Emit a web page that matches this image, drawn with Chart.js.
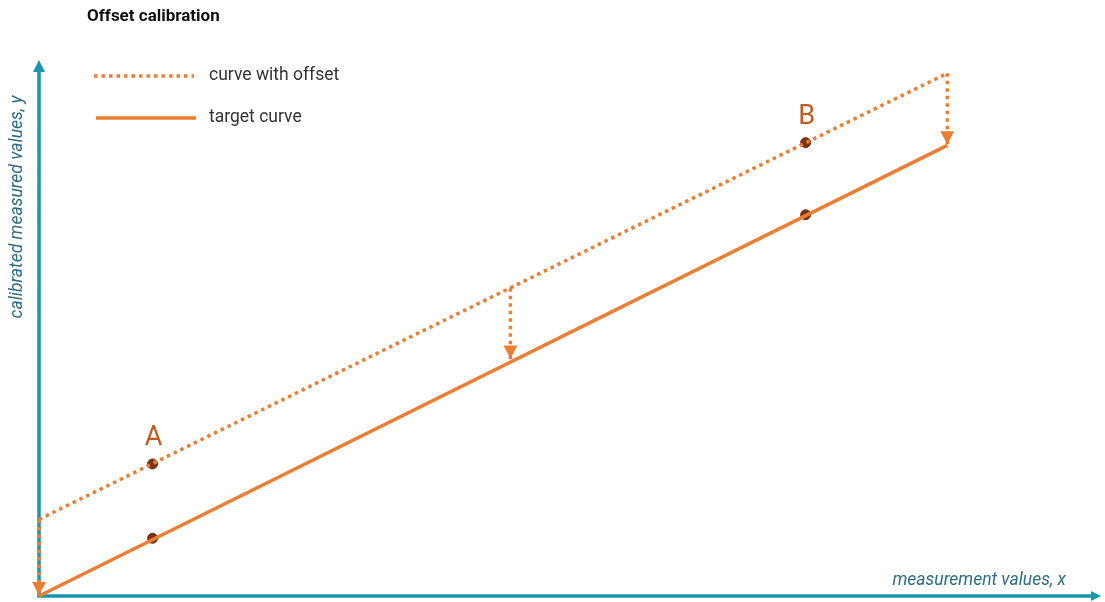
<!DOCTYPE html>
<html>
<head>
<meta charset="utf-8">
<script src="https://cdn.jsdelivr.net/npm/chart.js@4"></script>
<style>
  body { margin: 0; background: #fff; }
  #wrap { width: 1105px; height: 602px; }
</style>
</head>
<body>
<div id="wrap"><canvas id="myChart"></canvas></div>
<script>
// line ends (x) and y for both curves
const lineX = [0, 100];
const offsetY = [17, 116];
const targetY = [0, 100];

// marked points A and B
const pointNames = ['A', 'B'];
const pointX = [12.5, 84.4];
const pointOffsetY = [29.3, 100.6];
const pointTargetY = [12.8, 84.6];

// dotted correction arrows
const arrowX = [0, 51.9, 100];
const arrowFrom = [17, 68.3, 116];
const arrowTo = [0, 52.5, 100];

const titleText = 'Offset calibration';
const legendNames = ['curve with offset', 'target curve'];
const xTitle = 'measurement values, x';
const yTitle = 'calibrated measured values, y';

const orange = '#ED7D31';
const teal = '#1797AE';
const dotColor = '#7A3210';

function pts(xs, ys) {
    return xs.map((x, i) => ({ x: x, y: ys[i] }));
}

const datasets = [
    { data: pts(lineX, offsetY), borderColor: orange, borderWidth: 3.5, borderDash: [3.5, 4], pointRadius: 0 },
    { data: pts(lineX, targetY), borderColor: orange, borderWidth: 3.5, pointRadius: 0 }
];
for (let i = 0; i < arrowX.length; i++) {
    datasets.push({
        data: [{ x: arrowX[i], y: arrowFrom[i] }, { x: arrowX[i], y: arrowTo[i] }],
        borderColor: orange, borderWidth: 3.5, borderDash: [3.5, 4], pointRadius: 0
    });
}
datasets.push({
    data: pts(pointX, pointOffsetY).concat(pts(pointX, pointTargetY)),
    showLine: false, pointRadius: 5, pointBackgroundColor: dotColor,
    pointBorderColor: dotColor, pointBorderWidth: 1
});

function tri(c, x1, y1, x2, y2, x3, y3, col) {
    c.fillStyle = col;
    c.beginPath();
    c.moveTo(x1, y1); c.lineTo(x2, y2); c.lineTo(x3, y3);
    c.closePath();
    c.fill();
}

const drawAxes = {
    id: 'drawAxes',
    beforeDatasetsDraw(chart) {
        const c = chart.ctx;
        const a = chart.chartArea;
        c.save();
        c.strokeStyle = teal;
        c.lineWidth = 3.5;
        c.beginPath();
        c.moveTo(a.left, a.top + 4);
        c.lineTo(a.left, a.bottom);
        c.lineTo(a.right - 4, a.bottom);
        c.stroke();
        tri(c, a.left, a.top - 2, a.left - 6, a.top + 10, a.left + 6, a.top + 10, teal);
        tri(c, a.right + 2, a.bottom, a.right - 8, a.bottom - 5, a.right - 8, a.bottom + 5, teal);
        c.restore();
    },
    afterDatasetsDraw(chart) {
        const c = chart.ctx;
        const xs = chart.scales.x, ys = chart.scales.y;
        c.save();
        // arrow heads
        for (let i = 0; i < arrowX.length; i++) {
            const px = xs.getPixelForValue(arrowX[i]);
            const py = ys.getPixelForValue(arrowTo[i]) - 1;
            tri(c, px, py, px - 7, py - 13, px + 7, py - 13, orange);
        }
        // point labels
        c.fillStyle = '#C55A1E';
        c.font = '27px Roboto';
        c.textAlign = 'center';
        c.textBaseline = 'bottom';
        for (let i = 0; i < pointNames.length; i++) {
            c.fillText(pointNames[i], xs.getPixelForValue(pointX[i]) + 1, ys.getPixelForValue(pointOffsetY[i]) - 12);
        }
        // title
        c.fillStyle = '#111';
        c.font = 'bold 17px Roboto';
        c.textAlign = 'left';
        c.textBaseline = 'middle';
        c.fillText(titleText, 87, 17);
        // legend
        c.strokeStyle = orange;
        c.lineWidth = 3.5;
        c.setLineDash([3.5, 4]);
        c.beginPath(); c.moveTo(94, 76); c.lineTo(194, 76); c.stroke();
        c.setLineDash([]);
        c.beginPath(); c.moveTo(96, 118); c.lineTo(196, 118); c.stroke();
        c.fillStyle = '#333';
        c.font = '17.5px Roboto';
        c.fillText(legendNames[0], 209, 76);
        c.fillText(legendNames[1], 209, 118);
        // axis titles
        c.fillStyle = '#2E6E84';
        c.font = 'italic 17.5px Roboto';
        c.textAlign = 'right';
        c.fillText(xTitle, 1066, 581);
        c.translate(18, 207);
        c.rotate(-Math.PI / 2);
        c.textAlign = 'center';
        c.fillText(yTitle, 0, 0);
        c.restore();
    }
};

var ctx = document.getElementById('myChart').getContext('2d');
var myChart = new Chart(ctx, { // eslint-disable-line
    type: 'scatter',
    data: { datasets: datasets.map(d => Object.assign({ showLine: true, clip: false }, d)) },
    options: {
        responsive: true,
        maintainAspectRatio: false,
        animation: false,
        layout: { padding: { left: 39, right: 5, top: 62, bottom: 3 } },
        plugins: { legend: { display: false }, tooltip: { enabled: false } },
        scales: {
            x: { display: false, min: 0, max: 116.7 },
            y: { display: false, min: 0, max: 118.5 }
        }
    },
    plugins: [drawAxes]
});
</script>
</body>
</html>
